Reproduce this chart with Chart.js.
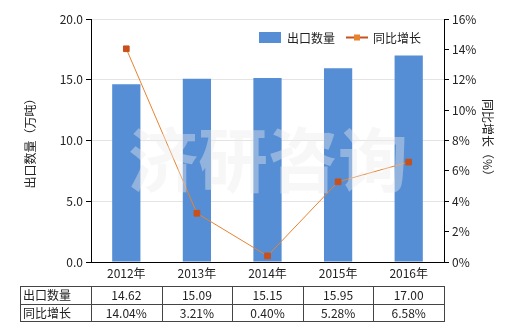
<!DOCTYPE html>
<html>
<head>
<meta charset="utf-8">
<script src="https://cdn.jsdelivr.net/npm/chart.js"></script>
<style>
  html, body { margin: 0; padding: 0; background: #fff; }
  #wrap { position: relative; width: 520px; height: 330px; }
</style>
</head>
<body>
<div id="wrap"><canvas id="chart" width="520" height="330"></canvas></div>
<script>
const years = ["2012年", "2013年", "2014年", "2015年", "2016年"];
const exportQty = [14.62, 15.09, 15.15, 15.95, 17.00];
const growth = [14.04, 3.21, 0.40, 5.28, 6.58];
const qtyLabels = ["14.62", "15.09", "15.15", "15.95", "17.00"];
const growthLabels = ["14.04%", "3.21%", "0.40%", "5.28%", "6.58%"];

const FONT = '"Noto Sans CJK SC", "Noto Sans", sans-serif';
const barColor = "#558ed5";
const lineColor = "#e8832f";
const pointColor = "#c8501a";

// watermark + legend + data table underneath
const extras = {
  id: "extras",
  afterDatasetsDraw(chart) {
    const ctx = chart.ctx;
    ctx.save();
    ctx.font = "bold 70px " + FONT;
    ctx.fillStyle = "rgba(235,235,235,0.4)";
    ctx.textAlign = "center";
    ctx.textBaseline = "middle";
    ctx.fillText("济研咨询", 268, 160);
    ctx.restore();
  },
  afterDraw(chart) {
    const ctx = chart.ctx;
    const x = chart.scales.x;
    ctx.save();
    // legend
    ctx.font = "12px " + FONT;
    ctx.textBaseline = "middle";
    ctx.fillStyle = barColor;
    ctx.fillRect(259, 32, 22, 11);
    ctx.fillStyle = "#222";
    ctx.fillText("出口数量", 287, 38);
    ctx.strokeStyle = pointColor;
    ctx.lineWidth = 2;
    ctx.beginPath(); ctx.moveTo(346, 37.5); ctx.lineTo(368, 37.5); ctx.stroke();
    ctx.fillStyle = lineColor;
    ctx.fillRect(354, 34.5, 6, 6);
    ctx.fillStyle = "#222";
    ctx.fillText("同比增长", 373, 38);

    // table
    const top = 286, mid = 303.5, bot = 321;
    const left = 20, right = chart.chartArea.right;
    const step = (right - chart.chartArea.left) / years.length;
    ctx.strokeStyle = "#444";
    ctx.lineWidth = 1;
    ctx.beginPath();
    [top, mid, bot].forEach(y => { ctx.moveTo(left, Math.round(y) + 0.5); ctx.lineTo(right, Math.round(y) + 0.5); });
    ctx.moveTo(left + 0.5, top); ctx.lineTo(left + 0.5, bot + 1);
    for (let i = 0; i <= years.length; i++) {
      const cx = Math.round(chart.chartArea.left + step * i) + 0.5;
      ctx.moveTo(cx, top); ctx.lineTo(cx, bot + 1);
    }
    ctx.stroke();
    ctx.fillStyle = "#222";
    ctx.textAlign = "left";
    ctx.fillText("出口数量", 23, (top + mid) / 2 + 1);
    ctx.fillText("同比增长", 23, (mid + bot) / 2 + 1);
    ctx.textAlign = "center";
    years.forEach((_, i) => {
      const cx = x.getPixelForValue(i);
      ctx.fillText(qtyLabels[i], cx, (top + mid) / 2 + 1);
      ctx.fillText(growthLabels[i], cx, (mid + bot) / 2 + 1);
    });
    ctx.restore();
  }
};

new Chart(document.getElementById("chart"), {
  data: {
    labels: years,
    datasets: [
      {
        type: "line",
        label: "同比增长",
        data: growth,
        yAxisID: "y1",
        borderColor: lineColor,
        borderWidth: 1,
        pointStyle: "rect",
        pointRadius: 4,
        pointBackgroundColor: pointColor,
        pointBorderColor: pointColor,
        tension: 0,
        order: 0
      },
      {
        type: "bar",
        label: "出口数量",
        data: exportQty,
        yAxisID: "y",
        backgroundColor: barColor,
        barPercentage: 0.4,
        categoryPercentage: 1,
        order: 1
      }
    ]
  },
  plugins: [extras],
  options: {
    responsive: false,
    animation: false,
    layout: { padding: { top: 19, bottom: 48, left: 0, right: 0 } },
    plugins: { legend: { display: false }, tooltip: { enabled: false } },
    scales: {
      x: {
        grid: { display: false, drawTicks: false },
        border: { color: "#000" },
        ticks: { color: "#222", font: { family: FONT, size: 12 }, padding: 4 },
        afterFit(s) { s.height = 20; }
      },
      y: {
        position: "left",
        min: 0, max: 20,
        ticks: { stepSize: 5, color: "#222", font: { family: FONT, size: 12 }, padding: 3,
          callback: v => v.toFixed(1) },
        grid: { color: "#e4e4e4", tickLength: 5, tickColor: "#000" },
        border: { color: "#000" },
        title: { display: true, text: "出口数量（万吨）", color: "#222",
          font: { family: FONT, size: 12 }, padding: { top: 23, bottom: 0 } },
        afterFit(s) { s.width = 91; }
      },
      y1: {
        position: "right",
        min: 0, max: 16,
        ticks: { stepSize: 2, color: "#222", font: { family: FONT, size: 12 }, padding: 3,
          callback: v => v + "%" },
        grid: { drawOnChartArea: false, tickLength: 5, tickColor: "#000" },
        border: { color: "#000" },
        title: { display: true, text: "同比增长（%）", color: "#222",
          font: { family: FONT, size: 12 }, padding: { top: 25, bottom: 0 } },
        afterFit(s) { s.width = 76; }
      }
    }
  }
});
</script>
</body>
</html>
